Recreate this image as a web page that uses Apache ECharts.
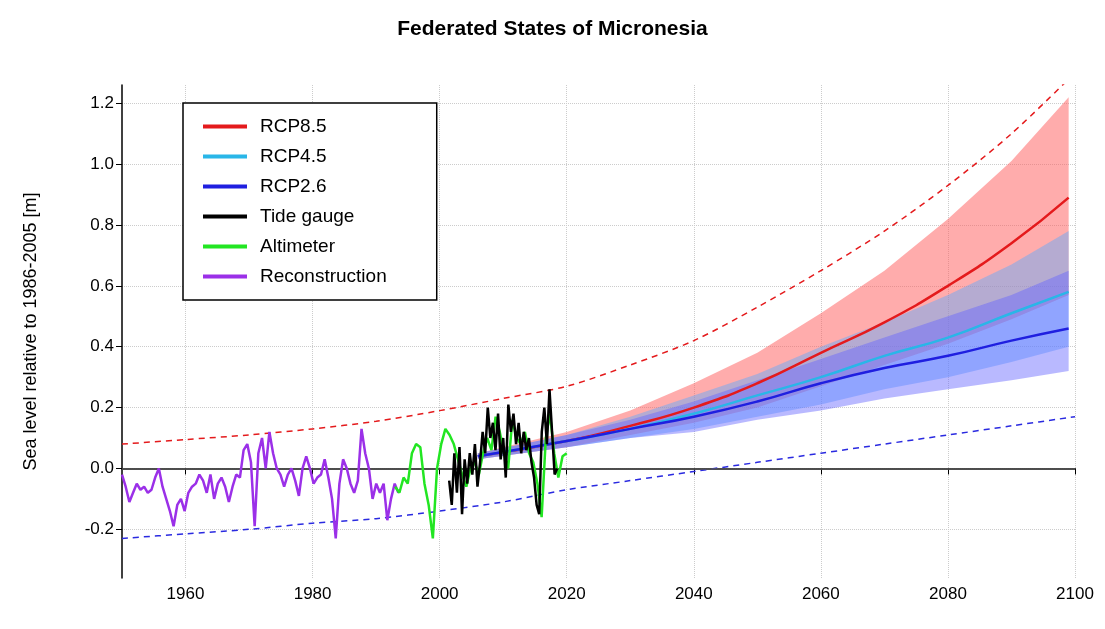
<!DOCTYPE html>
<html lang="en">
<head>
    <meta charset="UTF-8">
    <title>Federated States of Micronesia</title>
</head>
<body style="margin:0">
<div id='main' style="height: 629px;width: 1105px"></div>
</body>
<script src="https://cdn.jsdelivr.net/npm/echarts@6/dist/echarts.min.js"></script>
<script>
    // reconstruction 1950 - 1993.5
    var reconStart = 1950, reconEnd = 1993.5;
    var recon = [-0.02, -0.06, -0.11, -0.08, -0.05, -0.07, -0.06, -0.08, -0.07, -0.03, 0.0, -0.06,
        -0.1, -0.14, -0.19, -0.12, -0.1, -0.14, -0.08, -0.06, -0.05, -0.02, -0.04, -0.08, -0.02, -0.1,
        -0.05, -0.03, -0.06, -0.11, -0.06, -0.02, -0.03, 0.06, 0.08, 0.02, -0.19, 0.05, 0.1, 0.0,
        0.12, 0.05, 0.0, -0.02, -0.06, -0.02, 0.0, -0.04, -0.09, 0.0, 0.04, 0.0, -0.05, -0.03,
        -0.02, 0.03, -0.03, -0.1, -0.23, -0.05, 0.03, 0.0, -0.05, -0.08, -0.04, 0.13, 0.05, 0.0,
        -0.1, -0.05, -0.08, -0.05, -0.17, -0.1, -0.05, -0.08];
    var altStart = 1993, altEnd = 2020;
    var alt = [-0.06, -0.08, -0.03, -0.05, 0.05, 0.08, 0.07, -0.05, -0.12, -0.23, 0.0, 0.08, 0.13,
        0.11, 0.08, 0.03, -0.02, -0.06, 0.0, 0.02, -0.02, 0.05, 0.1, 0.06, 0.17, 0.12, 0.05, 0.0,
        0.16, 0.1, 0.08, 0.12, 0.05, 0.02, -0.05, -0.16, 0.1, 0.18, 0.05, -0.03, 0.04, 0.05];
    var tideStart = 2001.5, tideEnd = 2018.5;
    var tide = [-0.04, -0.12, 0.05, -0.08, 0.07, -0.15, 0.03, -0.05, 0.05, -0.02, 0.08, -0.06, 0.02,
        0.12, 0.05, 0.2, 0.1, 0.15, 0.06, 0.18, 0.03, 0.1, -0.03, 0.21, 0.12, 0.18, 0.08, 0.15, 0.05,
        0.12, 0.06, 0.1, 0.02, -0.03, -0.12, -0.15, 0.12, 0.2, 0.08, 0.26, 0.12, -0.02, 0.0];
    // projections
    var projYears = [2006, 2020, 2030, 2040, 2050, 2060, 2070, 2080, 2090, 2099];
    var rcp85 = [0.04, 0.09, 0.14, 0.2, 0.28, 0.38, 0.48, 0.6, 0.74, 0.89];
    var rcp85Lo = [0.03, 0.07, 0.11, 0.15, 0.2, 0.27, 0.34, 0.41, 0.49, 0.57];
    var rcp85Hi = [0.05, 0.12, 0.19, 0.28, 0.38, 0.51, 0.65, 0.82, 1.01, 1.22];
    var rcp45 = [0.04, 0.09, 0.13, 0.18, 0.24, 0.3, 0.37, 0.43, 0.51, 0.58];
    var rcp45Lo = [0.03, 0.07, 0.1, 0.13, 0.17, 0.21, 0.26, 0.3, 0.35, 0.4];
    var rcp45Hi = [0.05, 0.11, 0.17, 0.24, 0.31, 0.4, 0.48, 0.57, 0.67, 0.78];
    var rcp26 = [0.04, 0.09, 0.13, 0.17, 0.22, 0.28, 0.33, 0.37, 0.42, 0.46];
    var rcp26Lo = [0.03, 0.07, 0.1, 0.12, 0.16, 0.19, 0.23, 0.26, 0.29, 0.32];
    var rcp26Hi = [0.05, 0.11, 0.16, 0.22, 0.29, 0.36, 0.43, 0.5, 0.57, 0.65];
    var dashYears = [1950, 1960, 1970, 1980, 1990, 2000, 2010, 2020, 2030, 2040, 2050, 2060, 2070, 2080, 2090, 2100];
    var dashHi = [0.08, 0.095, 0.11, 0.13, 0.155, 0.19, 0.23, 0.27, 0.34, 0.42, 0.53, 0.65, 0.78, 0.93, 1.1, 1.3];
    var dashLo = [-0.23, -0.215, -0.2, -0.18, -0.165, -0.14, -0.11, -0.07, -0.04, -0.01, 0.02, 0.05, 0.08, 0.11, 0.14, 0.17];
    var xTicks = [1960, 1980, 2000, 2020, 2040, 2060, 2080, 2100];
    var yTicks = [-0.2, 0.0, 0.2, 0.4, 0.6, 0.8, 1.0, 1.2];

    function series(start, end, vals) {
        var step = (end - start) / (vals.length - 1);
        return vals.map(function (v, i) { return [start + i * step, v]; });
    }
    function pairs(xs, ys) {
        return xs.map(function (x, i) { return [x, ys[i]]; });
    }
    function band(lo, hi, color) {
        return {
            type: 'custom', silent: true, z: 2,
            data: projYears.map(function (x, i) { return [x, lo[i], hi[i]]; }),
            renderItem: function (params, api) {
                if (params.dataIndex !== 0) return;
                var top = [], bot = [];
                for (var i = 0; i < projYears.length; i++) {
                    top.push(api.coord([projYears[i], hi[i]]));
                    bot.unshift(api.coord([projYears[i], lo[i]]));
                }
                return {type: 'polygon', shape: {points: top.concat(bot)},
                    style: {fill: color}};
            }
        };
    }

    var myChart = echarts.init(document.getElementById('main'));
    var line = function (name, data, color, width, smooth) {
        return {name: name, type: 'line', data: data, symbol: 'none', smooth: smooth,
            lineStyle: {color: color, width: width}, itemStyle: {color: color}, z: 5};
    };
    var option = {
        animation: false,
        title: {text: 'Federated States of Micronesia', left: 'center', top: 14,
            textStyle: {fontFamily: 'Arial', fontSize: 21, fontWeight: 'bold', color: '#000'}},
        grid: {left: 122, right: 30, top: 85, bottom: 51},
        legend: {
            data: ['RCP8.5', 'RCP4.5', 'RCP2.6', 'Tide gauge', 'Altimeter', 'Reconstruction'],
            orient: 'vertical', left: 183, top: 103, padding: [14, 50, 14, 20], itemGap: 11,
            borderColor: '#000', borderWidth: 1.5, backgroundColor: '#fff',
            icon: 'rect', itemWidth: 44, itemHeight: 4,
            textStyle: {fontFamily: 'Arial', fontSize: 19, color: '#000', padding: [0, 0, 0, 8]}
        },
        xAxis: {
            type: 'value', min: 1950, max: 2100,
            axisLine: {lineStyle: {color: '#000', width: 1.5}},
            axisTick: {customValues: xTicks, length: 6, lineStyle: {color: '#000'}},
            axisLabel: {customValues: xTicks, fontFamily: 'Arial', fontSize: 17, color: '#000',
                formatter: function (v) { return String(v); }},
            splitLine: {show: true, lineStyle: {color: '#ccc', type: 'dotted'}}
        },
        yAxis: {
            type: 'value', min: -0.36, max: 1.26,
            name: 'Sea level relative to 1986-2005 [m]', nameLocation: 'middle', nameGap: 82,
            nameTextStyle: {fontFamily: 'Arial', fontSize: 18, color: '#000'},
            axisLine: {show: true, lineStyle: {color: '#000', width: 1.5}},
            axisTick: {show: true, customValues: yTicks, length: 6, lineStyle: {color: '#000'}},
            axisLabel: {customValues: yTicks, fontFamily: 'Arial', fontSize: 17, color: '#000',
                formatter: function (v) { return v.toFixed(1); }},
            splitLine: {show: true, lineStyle: {color: '#ccc', type: 'dotted'}}
        },
        series: [
            band(rcp85Lo, rcp85Hi, 'rgba(255,90,90,0.5)'),
            band(rcp45Lo, rcp45Hi, 'rgba(90,170,255,0.45)'),
            band(rcp26Lo, rcp26Hi, 'rgba(100,100,255,0.45)'),
            line('RCP8.5', pairs(projYears, rcp85), '#e41a1c', 2.5, true),
            line('RCP4.5', pairs(projYears, rcp45), '#29b6e8', 2.5, true),
            line('RCP2.6', pairs(projYears, rcp26), '#1f1fe0', 2.5, true),
            line('Reconstruction', series(reconStart, reconEnd, recon), '#9b30e8', 2.5, false),
            line('Altimeter', series(altStart, altEnd, alt), '#22e622', 2.5, false),
            line('Tide gauge', series(tideStart, tideEnd, tide), '#000000', 2.5, false),
            {type: 'line', data: pairs(dashYears, dashHi), symbol: 'none', smooth: 0.3, z: 4,
                lineStyle: {color: '#e41a1c', width: 1.5, type: [6, 5]}},
            {type: 'line', data: pairs(dashYears, dashLo), symbol: 'none', smooth: 0.3, z: 4,
                lineStyle: {color: '#2a2ae0', width: 1.5, type: [6, 5]},
                markLine: {symbol: 'none', silent: true, label: {show: false},
                    lineStyle: {color: '#555', width: 1.5, type: 'solid'}, data: [{yAxis: 0}]}}
        ]
    };
    myChart.setOption(option);
</script>
</html>
